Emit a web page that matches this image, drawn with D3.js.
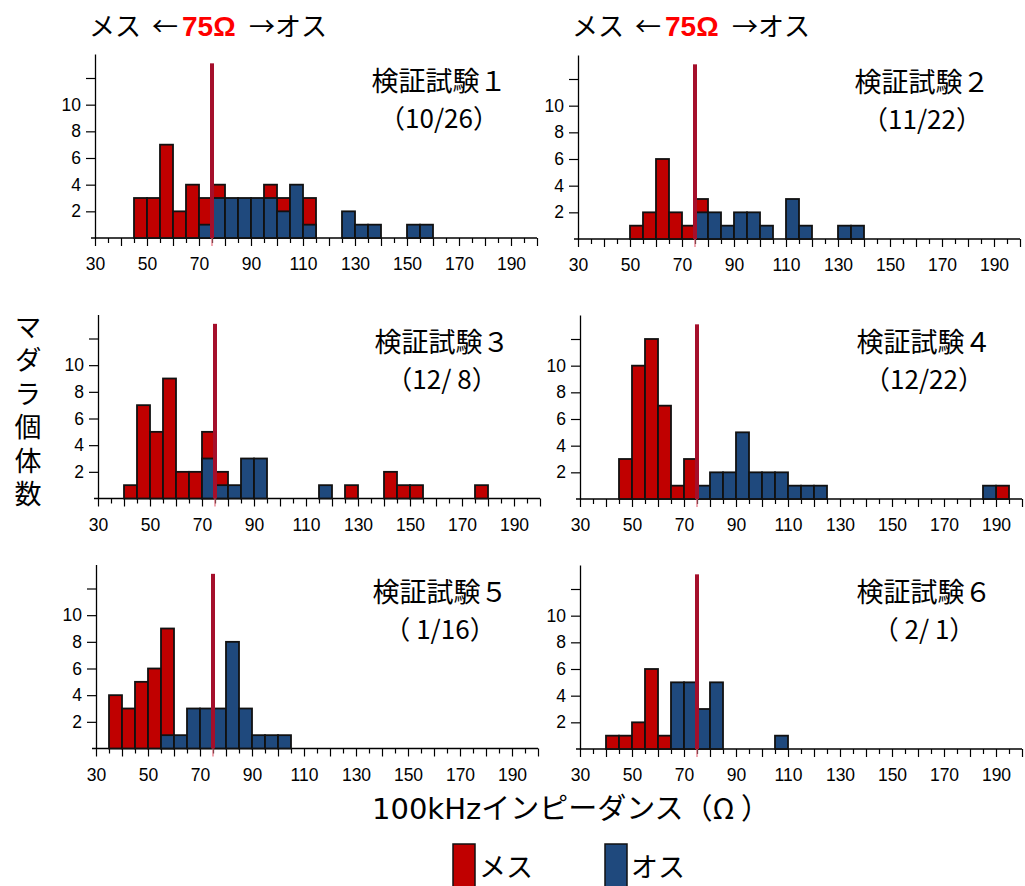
<!DOCTYPE html>
<html><head><meta charset="utf-8">
<script src="https://cdn.jsdelivr.net/npm/d3@7"></script>
<style>body{margin:0;background:#fff} svg{display:block}</style>
</head><body>
<svg id="chart" width="1025" height="886"></svg>
<script>
// ---------------- data ----------------
const trialTitles = ["検証試験１", "検証試験２", "検証試験３", "検証試験４", "検証試験５", "検証試験６"];
const trialDates  = ["（10/26）", "（11/22）", "（12/ 8）", "（12/22）", "（ 1/16）", "（ 2/ 1）"];
const binWidth = 5;
const xTickValues = [30,35,40,45,50,55,60,65,70,75,80,85,90,95,100,105,110,115,120,125,130,135,140,145,150,155,160,165,170,175,180,185,190,195,200];
const xTickLabels = [30, 50, 70, 90, 110, 130, 150, 170, 190];
const yTickValues = [2, 4, 6, 8, 10, 12];
const yTickLabels = [2, 4, 6, 8, 10];
const thresholdOhm = 75;
const seriesNames = ["メス", "オス"];
const axisTitleX = "100kHzインピーダンス（Ω ）";
const axisTitleY = "マダラ個体数";

// [bin start (Ω), count]
const female1 = [[45,3],[50,3],[55,7],[60,2],[65,4],[70,3],[75,4],[95,4],[100,3],[110,3]];
const male1   = [[70,1],[75,3],[80,3],[85,3],[90,3],[95,3],[100,2],[105,4],[110,1],[125,2],[130,1],[135,1],[150,1],[155,1]];
const female2 = [[50,1],[55,2],[60,6],[65,2],[70,1],[75,3]];
const male2   = [[75,2],[80,2],[85,1],[90,2],[95,2],[100,1],[110,3],[115,1],[130,1],[135,1]];
const female3 = [[40,1],[45,7],[50,5],[55,9],[60,2],[65,2],[70,5],[75,2],[125,1],[140,2],[145,1],[150,1],[175,1]];
const male3   = [[70,3],[75,1],[80,1],[85,3],[90,3],[115,1]];
const female4 = [[45,3],[50,10],[55,12],[60,7],[65,1],[70,3],[190,1]];
const male4   = [[75,1],[80,2],[85,2],[90,5],[95,2],[100,2],[105,2],[110,1],[115,1],[120,1],[185,1]];
const female5 = [[35,4],[40,3],[45,5],[50,6],[55,9]];
const male5   = [[55,1],[60,1],[65,3],[70,3],[75,3],[80,8],[85,3],[90,1],[95,1],[100,1]];
const female6 = [[40,1],[45,1],[50,2],[55,6],[60,1]];
const male6   = [[65,5],[70,5],[75,3],[80,5],[105,1]];

const femaleSeries = [female1, female2, female3, female4, female5, female6];
const maleSeries   = [male1, male2, male3, male4, male5, male6];

// ---------------- layout / style ----------------
const panelLayout = [
  {x0: 95,  base: 238},
  {x0: 578, base: 239},
  {x0: 98,  base: 498.5},
  {x0: 580, base: 499},
  {x0: 96,  base: 748.5},
  {x0: 580, base: 749}
];
const plotW = 442, plotH = 184;
const RED = "#C00000", BLUE = "#1F497D", LINE = "#A50F2B";
const JP = "'Noto Sans CJK JP', 'Noto Sans', sans-serif";
const LAT = "'Liberation Sans', Arial, sans-serif";

const svg = d3.select("#chart");

panelLayout.forEach((L, i) => {
  const x = d3.scaleLinear().domain([30, 200]).range([L.x0, L.x0 + plotW]);
  const y = d3.scaleLinear().domain([0, 13.8]).range([L.base, L.base - plotH]);
  const g = svg.append("g");

  // x axis
  const xAxis = d3.axisBottom(x).tickValues(xTickValues).tickSize(7).tickSizeOuter(0)
    .tickPadding(13).tickFormat(d => xTickLabels.includes(d) ? d : "");
  const gx = g.append("g").attr("transform", `translate(0,${L.base})`).call(xAxis);
  gx.select(".domain").remove();
  gx.selectAll(".tick line").attr("stroke", "#000").attr("stroke-width", 1.2)
    .attr("y2", d => (d % 10 === 0 ? 8 : 5));
  gx.selectAll(".tick text").attr("font-family", LAT).attr("font-size", 17.5).attr("fill", "#000");
  g.append("line").attr("x1", L.x0 - 4).attr("x2", x(200)).attr("y1", L.base).attr("y2", L.base)
    .attr("stroke", "#000").attr("stroke-width", 1.3);

  // y axis
  const yAxis = d3.axisLeft(y).tickValues(yTickValues).tickSize(9).tickSizeOuter(0)
    .tickPadding(5).tickFormat(d => yTickLabels.includes(d) ? d : "");
  const gy = g.append("g").attr("transform", `translate(${L.x0},0)`).call(yAxis);
  gy.select(".domain").attr("stroke", "#000").attr("stroke-width", 1.3);
  gy.selectAll(".tick line").attr("stroke", "#000").attr("stroke-width", 1.2);
  gy.selectAll(".tick text").attr("font-family", LAT).attr("font-size", 17.5).attr("fill", "#000");

  // bars: female behind, male in front
  g.append("g").selectAll("rect").data(femaleSeries[i]).join("rect")
    .attr("x", d => x(d[0])).attr("width", d => x(d[0] + binWidth) - x(d[0]))
    .attr("y", d => y(d[1])).attr("height", d => y(0) - y(d[1]))
    .attr("fill", RED).attr("stroke", "#111").attr("stroke-width", 1.8);
  g.append("g").selectAll("rect").data(maleSeries[i]).join("rect")
    .attr("x", d => x(d[0])).attr("width", d => x(d[0] + binWidth) - x(d[0]))
    .attr("y", d => y(d[1])).attr("height", d => y(0) - y(d[1]))
    .attr("fill", BLUE).attr("stroke", "#111").attr("stroke-width", 1.8);

  // threshold line
  g.append("line").attr("x1", x(thresholdOhm)).attr("x2", x(thresholdOhm))
    .attr("y1", y(13.1)).attr("y2", L.base).attr("stroke", LINE).attr("stroke-width", 4);
  g.append("line").attr("x1", x(thresholdOhm)).attr("x2", x(thresholdOhm))
    .attr("y1", L.base).attr("y2", L.base + 8).attr("stroke", "#e5707f").attr("stroke-width", 1.2);

  // titles
  g.append("text").attr("x", L.x0 + 344).attr("y", L.base - 147).attr("text-anchor", "middle")
    .attr("font-family", JP).attr("font-size", 27).attr("fill", "#000").text(trialTitles[i]);
  g.append("text").attr("x", L.x0 + 344).attr("y", L.base - 110).attr("text-anchor", "middle")
    .attr("font-family", JP).attr("font-size", 26).attr("fill", "#000").text(trialDates[i]);

  // header above the top row
  if (i < 2) {
    const hx = L.x0 - 6, hy = 36;
    g.append("text").attr("x", hx).attr("y", hy).attr("font-family", JP).attr("font-size", 26)
      .attr("fill", "#000").text("メス");
    g.append("text").attr("x", hx + 63).attr("y", hy).attr("font-family", JP).attr("font-size", 26)
      .attr("fill", "#000").text("←");
    g.append("text").attr("x", hx + 93).attr("y", hy).attr("font-family", LAT).attr("font-size", 28)
      .attr("font-weight", "bold").attr("fill", "#FF0000").text("75Ω");
    g.append("text").attr("x", hx + 160).attr("y", hy).attr("font-family", JP).attr("font-size", 26)
      .attr("fill", "#000").text("→オス");
  }
});

// y axis title (vertical)
svg.append("text").attr("x", 28).attr("y", 313)
  .attr("writing-mode", "vertical-rl").style("writing-mode", "vertical-rl")
  .attr("letter-spacing", 6.5)
  .attr("font-family", JP).attr("font-size", 27).attr("fill", "#000").text(axisTitleY);

// x axis title
const xt = svg.append("text").attr("x", 372).attr("y", 819).attr("font-size", 29)
  .attr("font-family", JP).attr("fill", "#000");
xt.append("tspan").attr("font-family", "'DejaVu Sans', sans-serif").text(axisTitleX.slice(0, 6));
xt.append("tspan").text(axisTitleX.slice(6));

// legend
const legendX = [453, 605];
const legendColors = [RED, BLUE];
seriesNames.forEach((name, k) => {
  svg.append("rect").attr("x", legendX[k]).attr("y", 844).attr("width", 22).attr("height", 44)
    .attr("fill", legendColors[k]).attr("stroke", "#111").attr("stroke-width", 1.5);
  svg.append("text").attr("x", legendX[k] + 26).attr("y", 877).attr("font-family", JP)
    .attr("font-size", 27).attr("fill", "#000").text(name);
});
</script>
</body></html>
